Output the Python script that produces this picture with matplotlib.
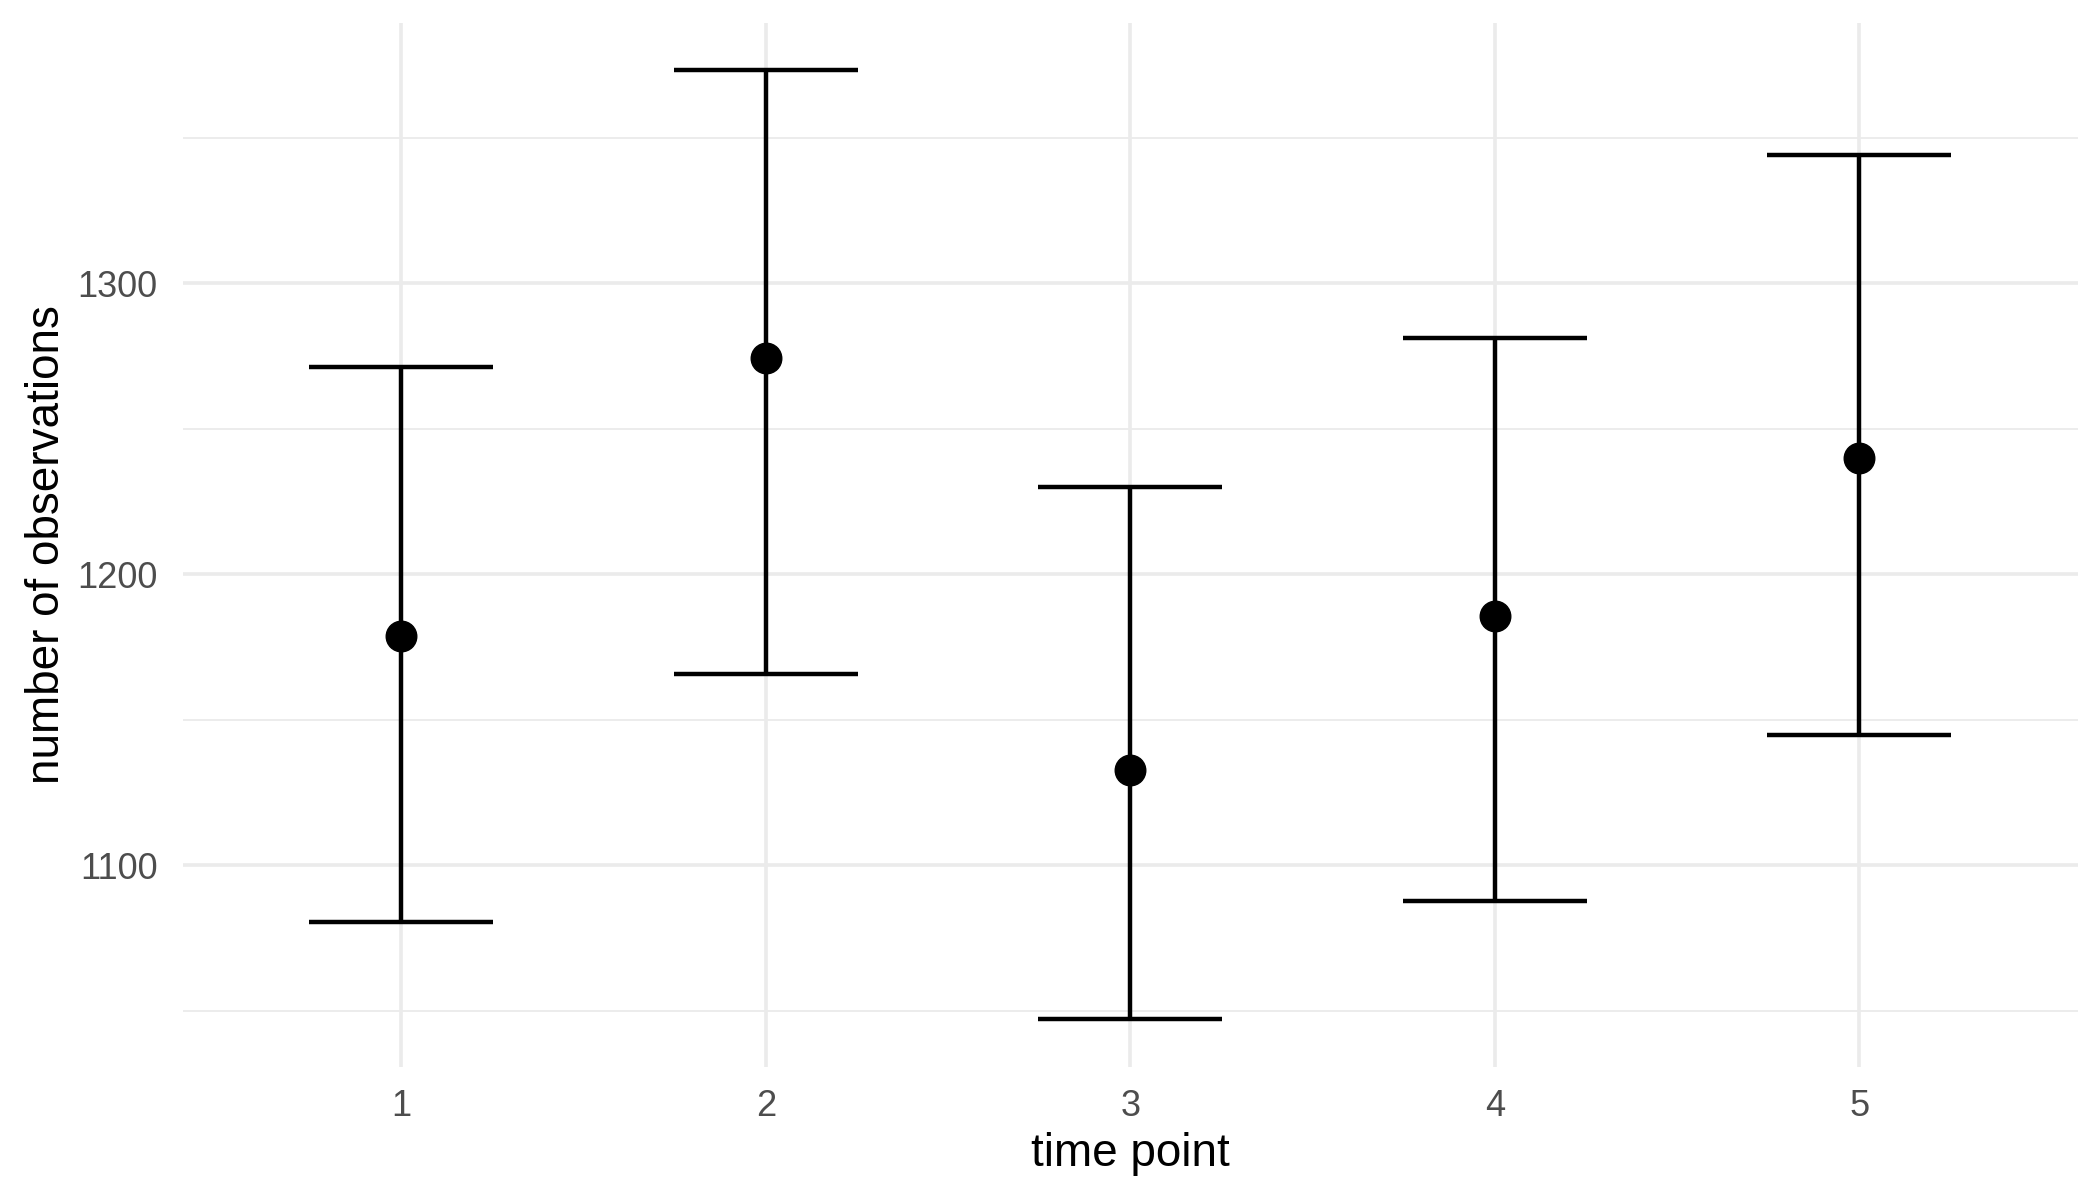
import numpy as np
import matplotlib
matplotlib.use("Agg")
import matplotlib.pyplot as plt
from matplotlib.ticker import MultipleLocator

# values
time_points = [1, 2, 3, 4, 5]
means = [1178.8, 1274.2, 1132.7, 1185.7, 1240.1]
lower = [1080.6, 1165.9, 1047.0, 1087.6, 1144.7]
upper = [1271.4, 1373.3, 1230.0, 1281.1, 1344.2]

plt.rcParams['font.family'] = ['Liberation Sans', 'DejaVu Sans']

fig = plt.figure(figsize=(21, 12), dpi=100)
ax = fig.add_axes([0.087, 0.111, 0.9025, 0.870])

x = np.array(time_points)
m = np.array(means)
err = [m - np.array(lower), np.array(upper) - m]

ax.errorbar(x, m, yerr=err, fmt='none', ecolor='black', elinewidth=3.2,
            capsize=66, capthick=3.2, zorder=3)
ax.plot(x, m, 'o', color='black', markersize=22, zorder=4)

ax.set_xlim(0.4, 5.6)
ax.set_ylim(1030.7, 1389.6)

ax.set_xticks(time_points)
ax.set_xticklabels([str(t) for t in time_points])
ax.yaxis.set_major_locator(MultipleLocator(100))
ax.yaxis.set_minor_locator(MultipleLocator(50))

ax.grid(which='major', color='#EBEBEB', linewidth=2.6, zorder=0)
ax.grid(which='minor', axis='y', color='#EBEBEB', linewidth=1.3, zorder=0)
ax.set_axisbelow(True)

for s in ax.spines.values():
    s.set_visible(False)
ax.tick_params(which='both', length=0)
ax.tick_params(axis='x', labelsize=26, labelcolor='#4D4D4D', pad=16)
ax.tick_params(axis='y', labelsize=26, labelcolor='#4D4D4D', pad=18)

ax.set_xlabel("time point", fontsize=33, labelpad=6)
ax.set_ylabel("number of observations", fontsize=33, labelpad=6)

fig.savefig("out.png", dpi=100, facecolor='white')
